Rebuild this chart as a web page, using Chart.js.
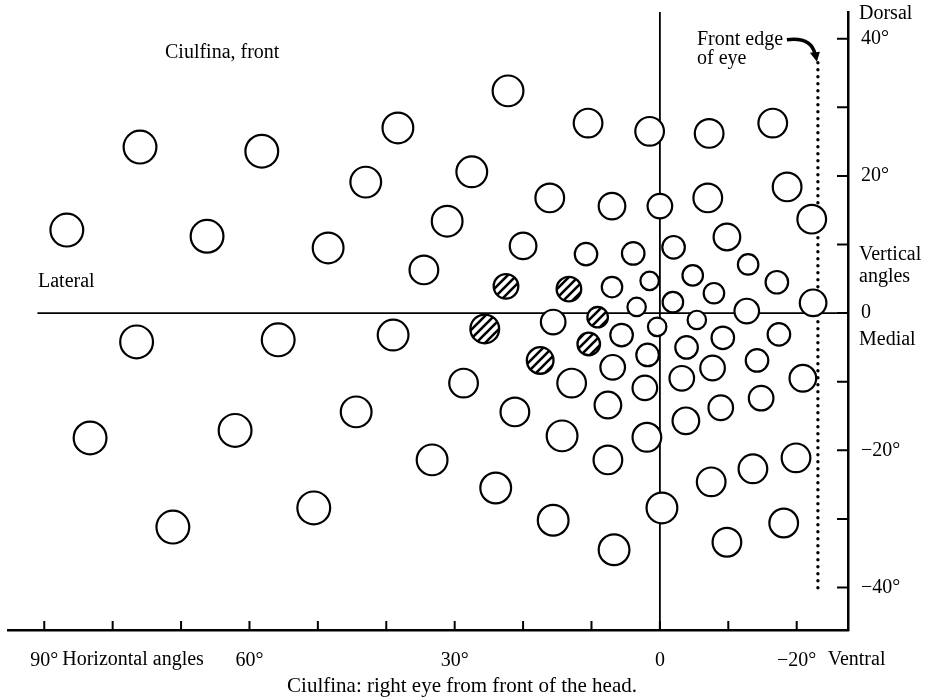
<!DOCTYPE html>
<html>
<head>
<meta charset="utf-8">
<script src="https://cdn.jsdelivr.net/npm/chart.js@4.4.1/dist/chart.umd.min.js"></script>
<style>
  body { margin: 0; background: #fff; }
  #wrap { width: 937px; height: 699px; }
</style>
</head>
<body>
<div id="wrap"><canvas id="myChart" width="937" height="699"></canvas></div>
<script>
// receptive field centres in degrees (horizontal angle, vertical angle) and diameter in degrees
var openX = [76.0, 58.2, 86.7, 66.2, 76.5, 55.8, 83.3, 62.1, 71.2, 50.6,
  22.2, 38.3, 43.0, 27.5, 16.1, 31.1, 48.5, 20.0, 34.5, 10.5,
  39.0, 28.7, 44.4, 33.3, 24.0, 21.2, 15.6, 14.3, 12.9, 15.6,
  6.9, 7.6, 7.6, 6.7, 1.9, -0.3, 2.2, 1.8, 5.6, 0.4,
  3.4, 7.0, 1.5, 10.8, 3.9, -2.0, -9.8, -4.8, -7.9, -12.9,
  -1.9, -5.4, -12.7, -3.9, -9.2, -7.7, -3.2, -3.8, -8.9, -14.8,
  -14.2, -20.9, -7.5, -13.6, -19.9, -18.1, -9.8, 1.5, -7.2, -16.5,
  7.0, 0.0, -7.0, -18.6, -22.2, -17.1, -22.4, -17.4];
var openY = [24.2, 23.6, 12.1, 11.2, -4.2, -3.9, -18.2, -17.1, -31.2, -28.4,
  32.4, 27.0, 19.1, 20.6, 16.8, 13.4, 9.5, 9.8, 6.3, 27.7,
  -3.2, -10.2, -14.4, -21.4, -25.5, -14.4, -30.2, -17.9, -10.2, -1.3,
  -7.9, -13.4, -21.4, -34.5, -18.1, -28.4, -10.9, -6.1, -3.2, -2.0,
  0.9, 3.8, 4.7, 8.6, 8.7, 9.6, 11.1, 5.5, 2.9, 7.1,
  1.6, -1.0, 0.3, -5.0, -3.6, -8.0, -9.5, -15.7, -13.8, -12.4,
  -6.9, -9.5, -24.6, -22.7, -21.1, -30.6, -33.4, 26.5, 26.2, 27.7,
  15.6, 15.6, 16.8, 18.4, 13.7, 4.5, 1.5, -3.1];
var openSize = [5.0, 5.0, 5.0, 5.0, 5.0, 5.0, 5.0, 5.0, 5.0, 5.0,
  4.7, 4.7, 4.7, 4.7, 4.4, 4.7, 4.7, 4.1, 4.4, 4.4,
  4.7, 4.4, 4.7, 4.7, 4.7, 4.4, 4.7, 4.7, 4.4, 3.8,
  3.8, 4.1, 4.4, 4.7, 4.4, 4.7, 3.8, 3.5, 3.5, 2.9,
  2.9, 3.2, 2.9, 3.5, 3.5, 3.5, 4.1, 3.2, 3.2, 3.2,
  3.2, 2.9, 3.8, 3.5, 3.5, 3.8, 3.8, 4.1, 3.8, 3.8,
  3.5, 4.1, 4.4, 4.4, 4.4, 4.4, 4.4, 4.4, 4.4, 4.4,
  4.1, 3.8, 4.4, 4.4, 4.4, 3.5, 4.1, 3.5];

// hatched fields
var hatchX = [22.5, 13.3, 25.6, 9.1, 10.4, 17.5];
var hatchY = [3.9, 3.5, -2.3, -0.6, -4.5, -6.9];
var hatchSize = [3.8, 3.8, 4.4, 3.2, 3.5, 4.1];

var xTickValues = [90, 80, 70, 60, 50, 40, 30, 20, 10, 0, -10, -20];
var xTickLabels = ["90°", "", "", "60°", "", "", "30°", "", "", "0", "", "\u221220°"];
var yTickValues = [40, 30, 20, 10, 0, -10, -20, -30, -40];
var yTickLabels = ["40°", "", "20°", "", "0", "", "\u221220°", "", "\u221240°"];

var xMin = -27.5, xMax = 95.3;
var yMin = -46.2, yMax = 43.9;
var lateralStart = 91;          // left end of the horizontal zero line
var frontEdge = -23.1;          // front edge of eye
var frontEdgeTop = 36.5, frontEdgeBottom = -40.5;

function pts(xs, ys) {
  return xs.map(function (v, i) { return { x: v, y: ys[i] }; });
}

function radiusFrom(sizes) {
  return function (ctx) {
    var d = sizes[ctx.dataIndex];
    if (d === undefined) return 3;
    var s = ctx.chart.scales.x;
    return Math.abs(s.getPixelForValue(d / 2) - s.getPixelForValue(0)) - 0.7;
  };
}

function makeHatch() {
  var n = 9;
  var c = document.createElement('canvas');
  c.width = n; c.height = n;
  var g = c.getContext('2d');
  g.fillStyle = '#fff';
  g.fillRect(0, 0, n, n);
  g.strokeStyle = '#000';
  g.lineWidth = 2.6;
  g.beginPath();
  g.moveTo(-2, n + 2); g.lineTo(n + 2, -2);
  g.moveTo(-2, 2); g.lineTo(2, -2);
  g.moveTo(n - 2, n + 2); g.lineTo(n + 2, n - 2);
  g.stroke();
  return g.createPattern(c, 'repeat');
}

var serif = "'Liberation Serif', 'Times New Roman', serif";
Chart.defaults.font.family = serif;
Chart.defaults.color = '#000';

var decor = {
  id: 'decor',
  afterDatasetsDraw: function (chart) {
    var ctx = chart.ctx, x = chart.scales.x, y = chart.scales.y, a = chart.chartArea;
    ctx.save();
    ctx.strokeStyle = '#000';
    ctx.lineWidth = 2;
    ctx.beginPath();
    xTickValues.forEach(function (v) {
      var px = x.getPixelForValue(v);
      ctx.moveTo(px, a.bottom);
      ctx.lineTo(px, a.bottom - 9);
    });
    yTickValues.forEach(function (v) {
      var py = y.getPixelForValue(v);
      ctx.moveTo(a.right, py);
      ctx.lineTo(a.right - 11, py);
    });
    ctx.stroke();

    // curved arrow to the front edge line
    var fx = x.getPixelForValue(frontEdge);
    var fy = y.getPixelForValue(frontEdgeTop);
    ctx.lineWidth = 3.5;
    ctx.beginPath();
    ctx.moveTo(fx - 31, fy - 23);
    ctx.quadraticCurveTo(fx - 7, fy - 26, fx - 3, fy - 9);
    ctx.stroke();
    ctx.fillStyle = '#000';
    ctx.beginPath();
    ctx.moveTo(fx - 8, fy - 10);
    ctx.lineTo(fx + 2, fy - 11);
    ctx.lineTo(fx - 1, fy - 1);
    ctx.closePath();
    ctx.fill();

    ctx.fillStyle = '#000';
    ctx.textBaseline = 'middle';
    ctx.textAlign = 'left';
    ctx.font = '20px ' + serif;
    ctx.fillText('Ciulfina, front', 165, 53);
    ctx.fillText('Lateral', 38, y.getPixelForValue(0) - 31);
    ctx.fillText('Front edge', 697, 40);
    ctx.fillText('of eye', 697, 59);

    var lx = a.right + 11;
    ctx.fillText('Dorsal', lx, 14);
    ctx.fillText('Vertical', lx, y.getPixelForValue(0) - 58);
    ctx.fillText('angles', lx, y.getPixelForValue(0) - 36);
    ctx.fillText('Medial', lx, y.getPixelForValue(0) + 27);

    var ly = a.bottom + 30;
    ctx.fillText('Horizontal angles', x.getPixelForValue(90) + 18, ly);
    ctx.fillText('Ventral', x.getPixelForValue(-20) + 31, ly);

    ctx.textAlign = 'center';
    ctx.font = '21px ' + serif;
    ctx.fillText('Ciulfina: right eye from front of the head.', 462, 686);
    ctx.restore();
  }
};

new Chart('myChart', {
  type: 'scatter',
  data: {
    datasets: [
      {
        data: pts(openX, openY),
        pointRadius: radiusFrom(openSize),
        pointHoverRadius: radiusFrom(openSize),
        backgroundColor: '#fff',
        borderColor: '#000',
        borderWidth: 2.2,
        pointHoverBorderWidth: 2.2,
        order: 0
      },
      {
        data: pts(hatchX, hatchY),
        pointRadius: radiusFrom(hatchSize),
        pointHoverRadius: radiusFrom(hatchSize),
        backgroundColor: makeHatch(),
        borderColor: '#000',
        borderWidth: 2.3,
        order: 0
      },
      {
        type: 'line',
        data: [{ x: lateralStart, y: 0 }, { x: xMin, y: 0 }],
        borderColor: '#000',
        borderWidth: 1.8,
        pointRadius: 0,
        order: 2
      },
      {
        type: 'line',
        data: [{ x: 0, y: yMax }, { x: 0, y: yMin }],
        borderColor: '#000',
        borderWidth: 1.8,
        pointRadius: 0,
        order: 2
      },
      {
        type: 'line',
        data: [{ x: frontEdge, y: frontEdgeTop }, { x: frontEdge, y: frontEdgeBottom }],
        borderColor: '#000',
        borderWidth: 3.4,
        borderDash: [0, 7],
        borderCapStyle: 'round',
        pointRadius: 0,
        order: 2
      }
    ]
  },
  options: {
    responsive: false,
    animation: false,
    events: [],
    layout: { padding: { left: 8, top: 12, right: 0, bottom: 0 } },
    plugins: {
      legend: { display: false },
      tooltip: { enabled: false }
    },
    scales: {
      x: {
        type: 'linear',
        position: 'bottom',
        reverse: true,
        min: xMin,
        max: xMax,
        grid: { display: false, drawTicks: false },
        border: { display: true, color: '#000', width: 2.5 },
        afterBuildTicks: function (s) { s.ticks = xTickValues.map(function (v) { return { value: v }; }); },
        afterFit: function (s) { s.height = 69; s.paddingLeft = 0; s.paddingRight = 0; },
        ticks: {
          autoSkip: false,
          maxRotation: 0,
          padding: 19,
          font: { size: 20 },
          color: '#000',
          callback: function (v) { var i = xTickValues.indexOf(v); return i < 0 ? '' : xTickLabels[i]; }
        }
      },
      y: {
        type: 'linear',
        position: 'right',
        min: yMin,
        max: yMax,
        grid: { display: false, drawTicks: false },
        border: { display: true, color: '#000', width: 2.5 },
        afterBuildTicks: function (s) { s.ticks = yTickValues.map(function (v) { return { value: v }; }); },
        afterFit: function (s) { s.width = 89; s.paddingTop = 0; s.paddingBottom = 0; },
        ticks: {
          autoSkip: false,
          padding: 13,
          font: { size: 20 },
          color: '#000',
          callback: function (v) { var i = yTickValues.indexOf(v); return i < 0 ? '' : yTickLabels[i]; }
        }
      }
    }
  },
  plugins: [decor]
});
</script>
</body>
</html>
